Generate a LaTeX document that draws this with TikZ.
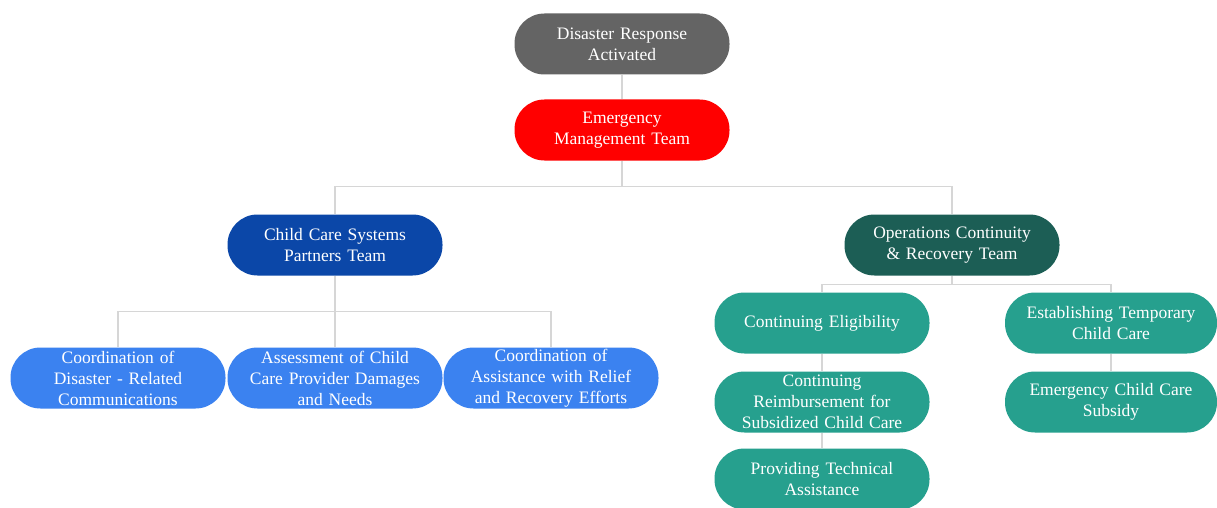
\documentclass[tikz,border=0pt]{standalone}
\usepackage{fontspec}
\setmainfont{Liberation Serif}
\usetikzlibrary{backgrounds}
\definecolor{cgray}{HTML}{646464}
\definecolor{cred}{HTML}{FF0000}
\definecolor{cdblue}{HTML}{0B47A8}
\definecolor{cdteal}{HTML}{1C5E55}
\definecolor{clblue}{HTML}{3B82F0}
\definecolor{cteal}{HTML}{26A08E}
\definecolor{cline}{HTML}{D6D6D6}
\begin{document}
\begin{tikzpicture}[x=1pt,y=1pt,
  pill/.style={rectangle, rounded corners=30pt, minimum width=215pt, minimum height=61pt,
    text width=210pt, align=center, text=white, inner sep=0pt,
    font=\fontsize{17.5}{21}\selectfont},
  conn/.style={draw=cline, line width=1.2pt}]
\useasboundingbox (0,0) rectangle (1217,-508);
\node[pill, fill=cgray] (dra) at (622,-44) {Disaster Response\\Activated};
\node[pill, fill=cred] (emt) at (622,-130) {Emergency\\Management Team};
\node[pill, fill=cdblue] (ccs) at (335,-245) {Child Care Systems\\Partners Team};
\node[pill, fill=cdteal] (ocr) at (952,-245) {Operations Continuity\\\& Recovery Team};
\node[pill, fill=clblue] (c1) at (118,-378) {Coordination of\\Disaster - Related\\Communications};
\node[pill, fill=clblue] (c2) at (335,-378) {Assessment of Child\\Care Provider Damages\\and Needs};
\node[pill, fill=clblue] (c3) at (551,-378) {Coordination of\\Assistance with Relief\\and Recovery Efforts};
\node[pill, fill=cteal] (ce) at (822,-323) {Continuing Eligibility};
\node[pill, fill=cteal] (cr) at (822,-402) {Continuing\\Reimbursement for\\Subsidized Child Care};
\node[pill, fill=cteal] (pt) at (822,-479) {Providing Technical\\Assistance};
\node[pill, fill=cteal, minimum width=212pt] (et) at (1111,-323) {Establishing Temporary\\Child Care};
\node[pill, fill=cteal, minimum width=212pt] (ec) at (1111,-402) {Emergency Child Care\\Subsidy};
\begin{scope}[on background layer]
\fill[white] (0,0) rectangle (1217,-508);
\draw[conn] (dra) -- (emt);
\draw[conn] (emt.south) -- ++(0,-26) -| (ccs.north);
\draw[conn] (emt.south) -- ++(0,-26) -| (ocr.north);
\draw[conn] (ccs.south) -- ++(0,-36) -| (c1.north);
\draw[conn] (ccs.south) -- (c2.north);
\draw[conn] (ccs.south) -- ++(0,-36) -| (c3.north);
\draw[conn] (ocr.south) -- ++(0,-9) -| (ce.north);
\draw[conn] (ocr.south) -- ++(0,-9) -| (et.north);
\draw[conn] (ce) -- (cr);
\draw[conn] (cr) -- (pt);
\draw[conn] (et) -- (ec);
\end{scope}
\end{tikzpicture}
\end{document}
